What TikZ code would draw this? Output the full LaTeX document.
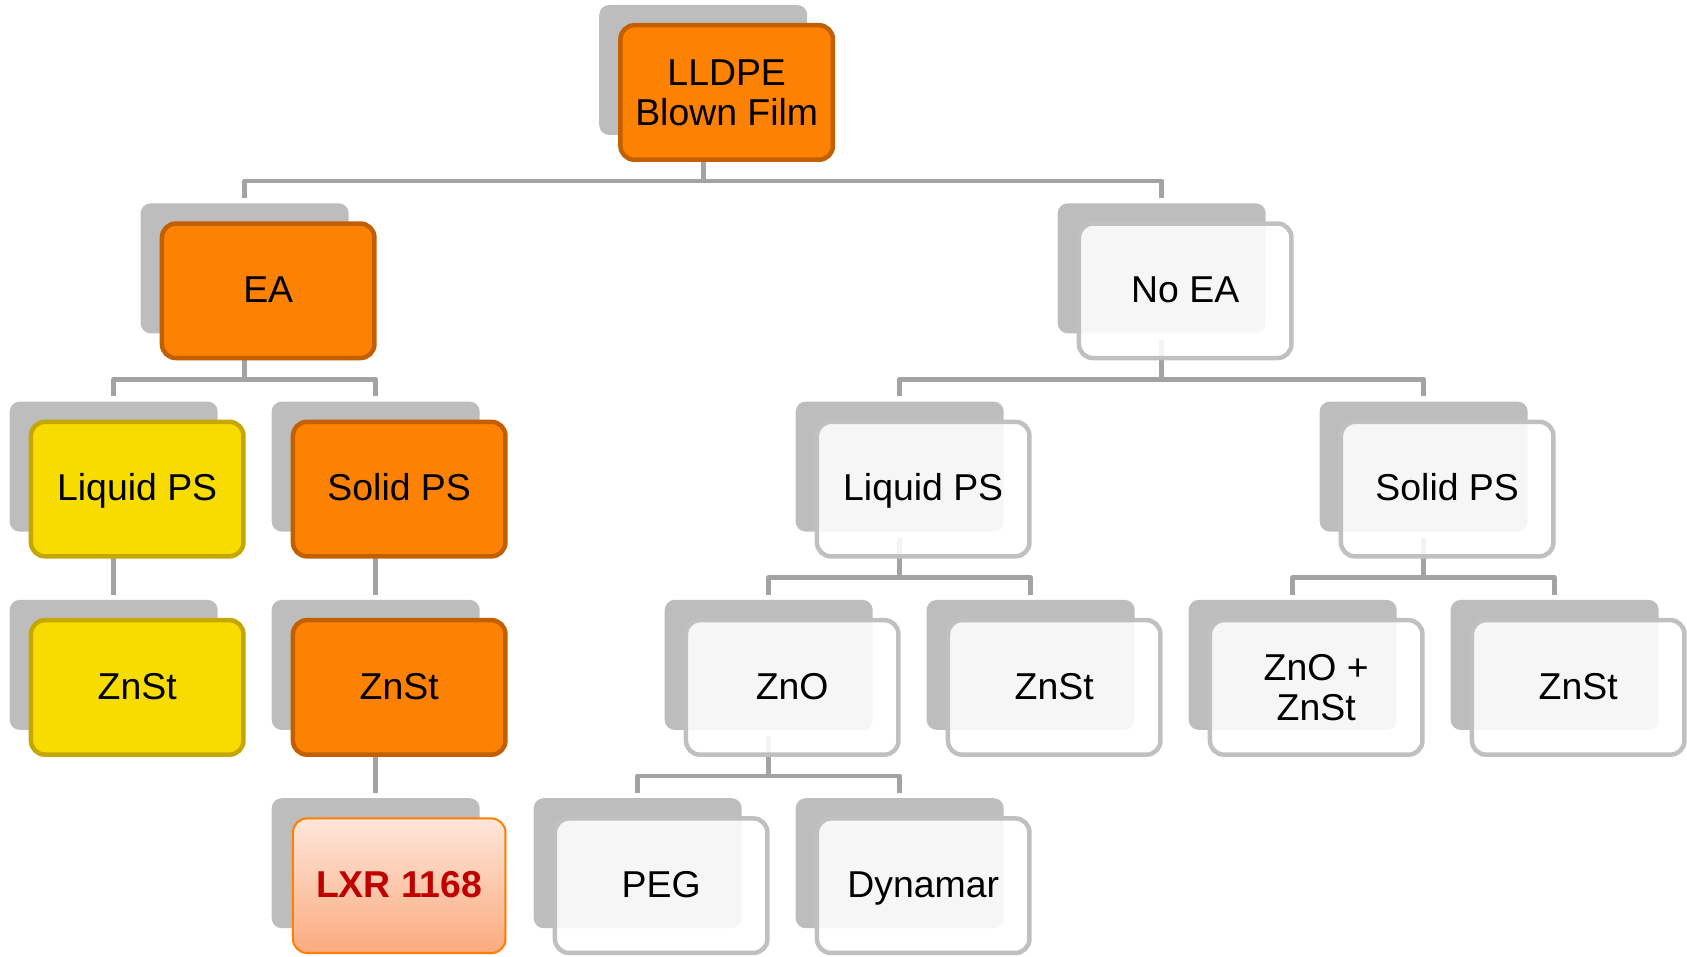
\documentclass[tikz,border=0pt]{standalone}
\usepackage{fontspec}
\setmainfont{Liberation Sans}
\usetikzlibrary{calc,shadows}
\pgfdeclarelayer{bg}
\pgfsetlayers{bg,main}
\definecolor{shadowgray}{HTML}{BDBDBD}
\definecolor{connc}{HTML}{A3A3A3}
\definecolor{orfill}{HTML}{FD8204}
\definecolor{ordraw}{HTML}{C26000}
\definecolor{yefill}{HTML}{F8DC00}
\definecolor{yedraw}{HTML}{C4A700}
\definecolor{whdraw}{HTML}{C0C0C0}
\definecolor{lxrtop}{HTML}{FEE6DA}
\definecolor{lxrbot}{HTML}{FBAB7E}
\definecolor{lxrdraw}{HTML}{FF8000}
\definecolor{lxrtext}{HTML}{C00000}
\tikzset{
 shadowbox/.style={fill=shadowgray, rounded corners=5pt, minimum width=104pt, minimum height=65pt, inner sep=0pt},
 frontbox/.style={rounded corners=7pt, minimum width=106.25pt, minimum height=67.25pt, inner sep=0pt, align=center, font=\fontsize{18.7}{20}\selectfont, line width=2.25pt},
 oneline/.style={text height=11.8pt, text depth=0pt},
 orangebox/.style={frontbox, fill=orfill, draw=ordraw},
 yellowbox/.style={frontbox, fill=yefill, draw=yedraw},
 whitebox/.style={frontbox, fill=white, fill opacity=0.88, text opacity=1, draw=whdraw, draw opacity=1},
 lxrbox/.style={frontbox, top color=lxrtop, bottom color=lxrbot, draw=lxrdraw, line width=1pt, font=\fontsize{18.7}{20}\selectfont\bfseries, text=lxrtext, drop shadow={opacity=0.15, shadow xshift=1pt, shadow yshift=-1pt}},
 connline/.style={draw=connc, line width=2.3pt, line join=round},
}
\newcommand\tnode[5]{%
 \pgfmathsetmacro\nL{9.7+131*#2}%
 \pgfmathsetmacro\nT{5+198.3*#3}%
 \node[shadowbox] (#1-s) at ({\nL+104},{-(\nT+65)}) {};
 \node[#4] (#1) at ({\nL+127.5},{-(\nT+87.5)}) {#5};
}
\newcommand\conn[2]{\draw[connline] ([yshift=-3pt]#1-s.south) |- ([yshift=11pt]#2-s.north) -- ([yshift=2.5pt]#2-s.north);}
\begin{document}
\begin{tikzpicture}[x=0.5pt,y=0.5pt]
\useasboundingbox (0,0) rectangle (1687,-957);
\tnode{root}{4.5}{0}{orangebox}{LLDPE\\Blown Film}
\tnode{ea}{1}{1}{orangebox,oneline}{EA}
\tnode{noea}{8}{1}{whitebox,oneline}{No EA}
\tnode{lpsa}{0}{2}{yellowbox,oneline}{Liquid PS}
\tnode{spsa}{2}{2}{orangebox,oneline}{Solid PS}
\tnode{lpsb}{6}{2}{whitebox,oneline}{Liquid PS}
\tnode{spsb}{10}{2}{whitebox,oneline}{Solid PS}
\tnode{znsta}{0}{3}{yellowbox,oneline}{ZnSt}
\tnode{znstb}{2}{3}{orangebox,oneline}{ZnSt}
\tnode{zno}{5}{3}{whitebox,oneline}{ZnO}
\tnode{znstc}{7}{3}{whitebox,oneline}{ZnSt}
\tnode{znoznst}{9}{3}{whitebox}{ZnO +\\ZnSt}
\tnode{znstd}{11}{3}{whitebox,oneline}{ZnSt}
\tnode{lxr}{2}{4}{lxrbox,oneline}{LXR 1168}
\tnode{peg}{4}{4}{whitebox,oneline}{PEG}
\tnode{dyn}{6}{4}{whitebox,oneline}{Dynamar}
\begin{pgfonlayer}{bg}
\conn{root}{ea}
\conn{root}{noea}
\conn{ea}{lpsa}
\conn{ea}{spsa}
\conn{noea}{lpsb}
\conn{noea}{spsb}
\conn{lpsa}{znsta}
\conn{spsa}{znstb}
\conn{lpsb}{zno}
\conn{lpsb}{znstc}
\conn{spsb}{znoznst}
\conn{spsb}{znstd}
\conn{znstb}{lxr}
\conn{zno}{peg}
\conn{zno}{dyn}
\end{pgfonlayer}
\end{tikzpicture}
\end{document}
